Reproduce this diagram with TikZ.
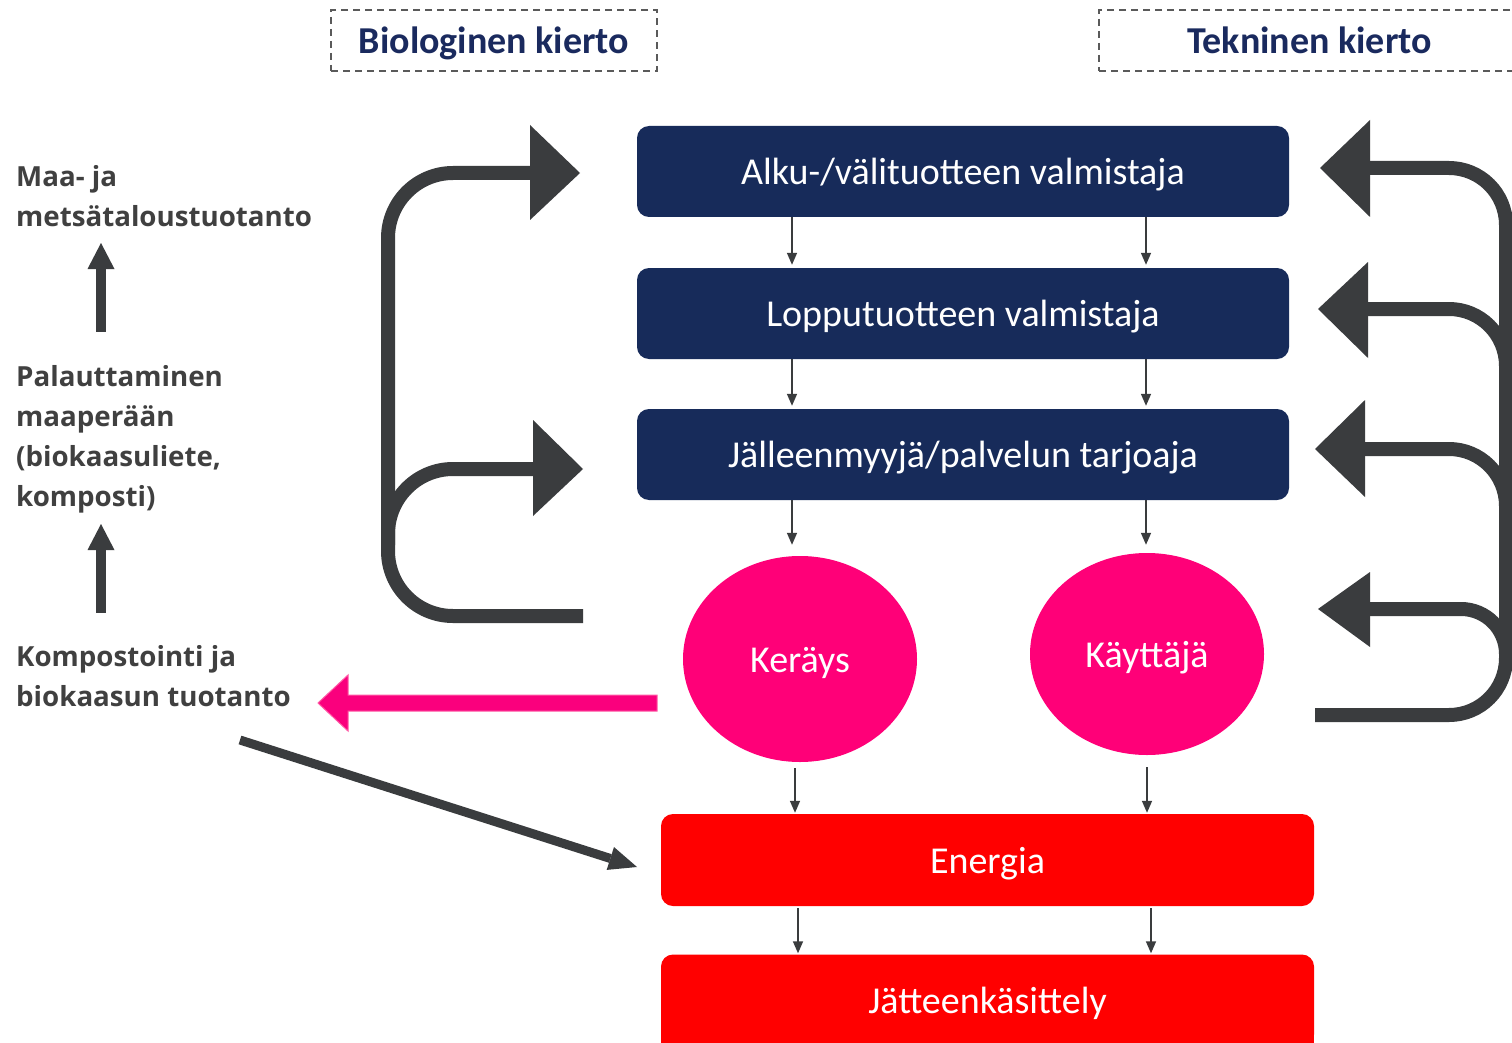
\documentclass[tikz,border=0pt]{standalone}
\usepackage{fontspec}
\setmainfont{Carlito}
\newfontfamily\leftfont{Open Sans}
\usetikzlibrary{arrows.meta,calc,shapes.geometric}
\definecolor{navy}{RGB}{23,43,90}
\definecolor{headnavy}{RGB}{26,42,94}
\definecolor{pinkfill}{RGB}{255,0,120}
\definecolor{pinkarrow}{RGB}{250,0,125}
\definecolor{pinkedge}{RGB}{255,90,165}
\definecolor{redbox}{RGB}{255,0,0}
\definecolor{arrgray}{RGB}{58,60,62}
\definecolor{txtgray}{RGB}{64,64,64}
\definecolor{dashgray}{RGB}{90,90,90}
\begin{document}
\begin{tikzpicture}[x=1pt,y=-1pt,
  boxtext/.style={text height=33.5pt, text depth=7.5pt, font=\fontsize{38}{42}\selectfont},
  navybox/.style={rectangle, rounded corners=12pt, fill=navy, text=white,
    minimum width=652pt, minimum height=91pt, inner sep=0pt, boxtext},
  redboxstyle/.style={rectangle, rounded corners=12pt, fill=redbox, text=white,
    minimum width=653pt, minimum height=92pt, inner sep=0pt, boxtext},
  pinkell/.style={ellipse, fill=pinkfill, text=white, inner sep=0pt,
    minimum width=234pt, boxtext},
  headbox/.style={rectangle, draw=dashgray, line width=2pt, dash pattern=on 7pt off 5pt,
    text=headnavy, inner sep=0pt, minimum height=61pt, boxtext,
    font=\fontsize{38}{42}\selectfont\bfseries},
  lefttxt/.style={align=left, text=txtgray, inner sep=0pt,
    font=\leftfont\fontsize{27.7}{40}\selectfont\bfseries},
  sarrow/.style={draw=arrgray, line width=1.5pt, -{Triangle[length=12pt,width=10pt]}},
  loopline/.style={draw=arrgray, line width=14pt},
]
\useasboundingbox (0,0) rectangle (1512,1043);
\fill[white] (0,0) rectangle (1512,1043);

% header boxes
\node[headbox, minimum width=326pt] (hbio) at (494,40.5) {Biologinen kierto};
\node[headbox, minimum width=421pt] (htek) at (1309.5,40.5) {Tekninen kierto};

% main boxes
\node[navybox] (b1) at (963,171.5) {Alku-/välituotteen valmistaja};
\node[navybox] (b2) at (963,313.5) {Lopputuotteen valmistaja};
\node[navybox] (b3) at (963,454.5) {Jälleenmyyjä/palvelun tarjoaja};
\node[pinkell, minimum height=206pt] (ker) at (800,659) {Keräys};
\node[pinkell, minimum height=202pt] (kay) at (1147,654) {Käyttäjä};
\node[redboxstyle] (en) at (987.5,860) {Energia};
\fill[redbox] (661,1000) rectangle (1314,1050);
\node[redboxstyle] (jat) at (987.5,1000.5) {Jätteenkäsittely};

% small arrows
\coordinate (xl) at (792,0);
\coordinate (xr) at (1146,0);
\draw[sarrow] (b1.south -| xl) -- ([yshift=3pt]b2.north -| xl);
\draw[sarrow] (b1.south -| xr) -- ([yshift=3pt]b2.north -| xr);
\draw[sarrow] (b2.south -| xl) -- ([yshift=3pt]b3.north -| xl);
\draw[sarrow] (b2.south -| xr) -- ([yshift=3pt]b3.north -| xr);
\draw[sarrow] (b3.south -| xl) -- ([yshift=11pt]ker.north -| xl);
\draw[sarrow] (b3.south -| xr) -- ([yshift=8pt]kay.north -| xr);
\coordinate (xl2) at (795,0);
\coordinate (xr2) at (1147,0);
\draw[sarrow] ([yshift=-6pt]ker.south -| xl2) -- ([yshift=1pt]en.north -| xl2);
\draw[sarrow] ([yshift=-12pt]kay.south -| xr2) -- ([yshift=1pt]en.north -| xr2);
\coordinate (xl3) at (798,0);
\coordinate (xr3) at (1151,0);
\draw[sarrow] ([yshift=-2pt]en.south -| xl3) -- ([yshift=1pt]jat.north -| xl3);
\draw[sarrow] ([yshift=-2pt]en.south -| xr3) -- ([yshift=1pt]jat.north -| xr3);

% left texts
\node[lefttxt, anchor=north west] (maa) at (16,165) {Maa- ja\\metsätaloustuotanto};
\node[lefttxt, anchor=north west] (pal) at (16,365) {Palauttaminen\\maaperään\\(biokaasuliete,\\komposti)};
\node[lefttxt, anchor=north west] (komp) at (16,645) {Kompostointi ja\\biokaasun tuotanto};

% left up arrows
\coordinate (u1b) at (101,332);
\coordinate (u1t) at (101,243);
\fill[arrgray] ([xshift=-5pt]u1b) rectangle ([xshift=5pt,yshift=-26pt]u1t);
\fill[arrgray] ([xshift=-13.5pt,yshift=-26pt]u1t) -- (u1t) -- ([xshift=13.5pt,yshift=-26pt]u1t) -- cycle;
\coordinate (u2b) at (101,613);
\coordinate (u2t) at (101,524);
\fill[arrgray] ([xshift=-5pt]u2b) rectangle ([xshift=5pt,yshift=-26pt]u2t);
\fill[arrgray] ([xshift=-13.5pt,yshift=-26pt]u2t) -- (u2t) -- ([xshift=13.5pt,yshift=-26pt]u2t) -- cycle;

% pink arrow
\coordinate (pS) at (657,703);
\coordinate (pT) at (318,703);
\filldraw[fill=pinkarrow, draw=pinkedge, line width=1pt]
  (657,695) -- (348,695) -- (348,675) -- (pT) -- (348,731) -- (348,711) -- (657,711) -- cycle;

% diagonal arrow
\coordinate (dS) at (240,740);
\coordinate (dT) at (637,867);
\coordinate (dB) at ($(dT)!28pt!(dS)$);
\draw[draw=arrgray, line width=9pt] (dS) -- (dB);
\fill[arrgray] (dT) -- ($(dB)!12pt!90:(dT)$) -- ($(dB)!12pt!-90:(dT)$) -- cycle;

% left loop
\draw[loopline, rounded corners=65pt] (583,616) -- (388,616) -- (388,173) -- (531,173);
\draw[loopline, rounded corners=65pt] (388,545) -- (388,469) -- (534,469);
\fill[arrgray] (530,125) -- (580,173) -- (530,220) -- cycle;
\fill[arrgray] (533,420) -- (583,469) -- (533,516) -- cycle;

% right loop
\draw[loopline, rounded corners=57pt] (1315,715) -- (1506,715) -- (1506,168) -- (1369,168);
\draw[loopline, rounded corners=57pt] (1506,400) -- (1506,309) -- (1367,309);
\draw[loopline, rounded corners=57pt] (1506,540) -- (1506,449) -- (1364,449);
\draw[loopline, rounded corners=45pt] (1506,655) -- (1506,609) -- (1369,609);
\fill[arrgray] (1370,120) -- (1320,168) -- (1370,217) -- cycle;
\fill[arrgray] (1368,262) -- (1318,309) -- (1368,358) -- cycle;
\fill[arrgray] (1365,400) -- (1315,449) -- (1365,497) -- cycle;
\fill[arrgray] (1370,572) -- (1318,609) -- (1370,647) -- cycle;
\end{tikzpicture}
\end{document}
